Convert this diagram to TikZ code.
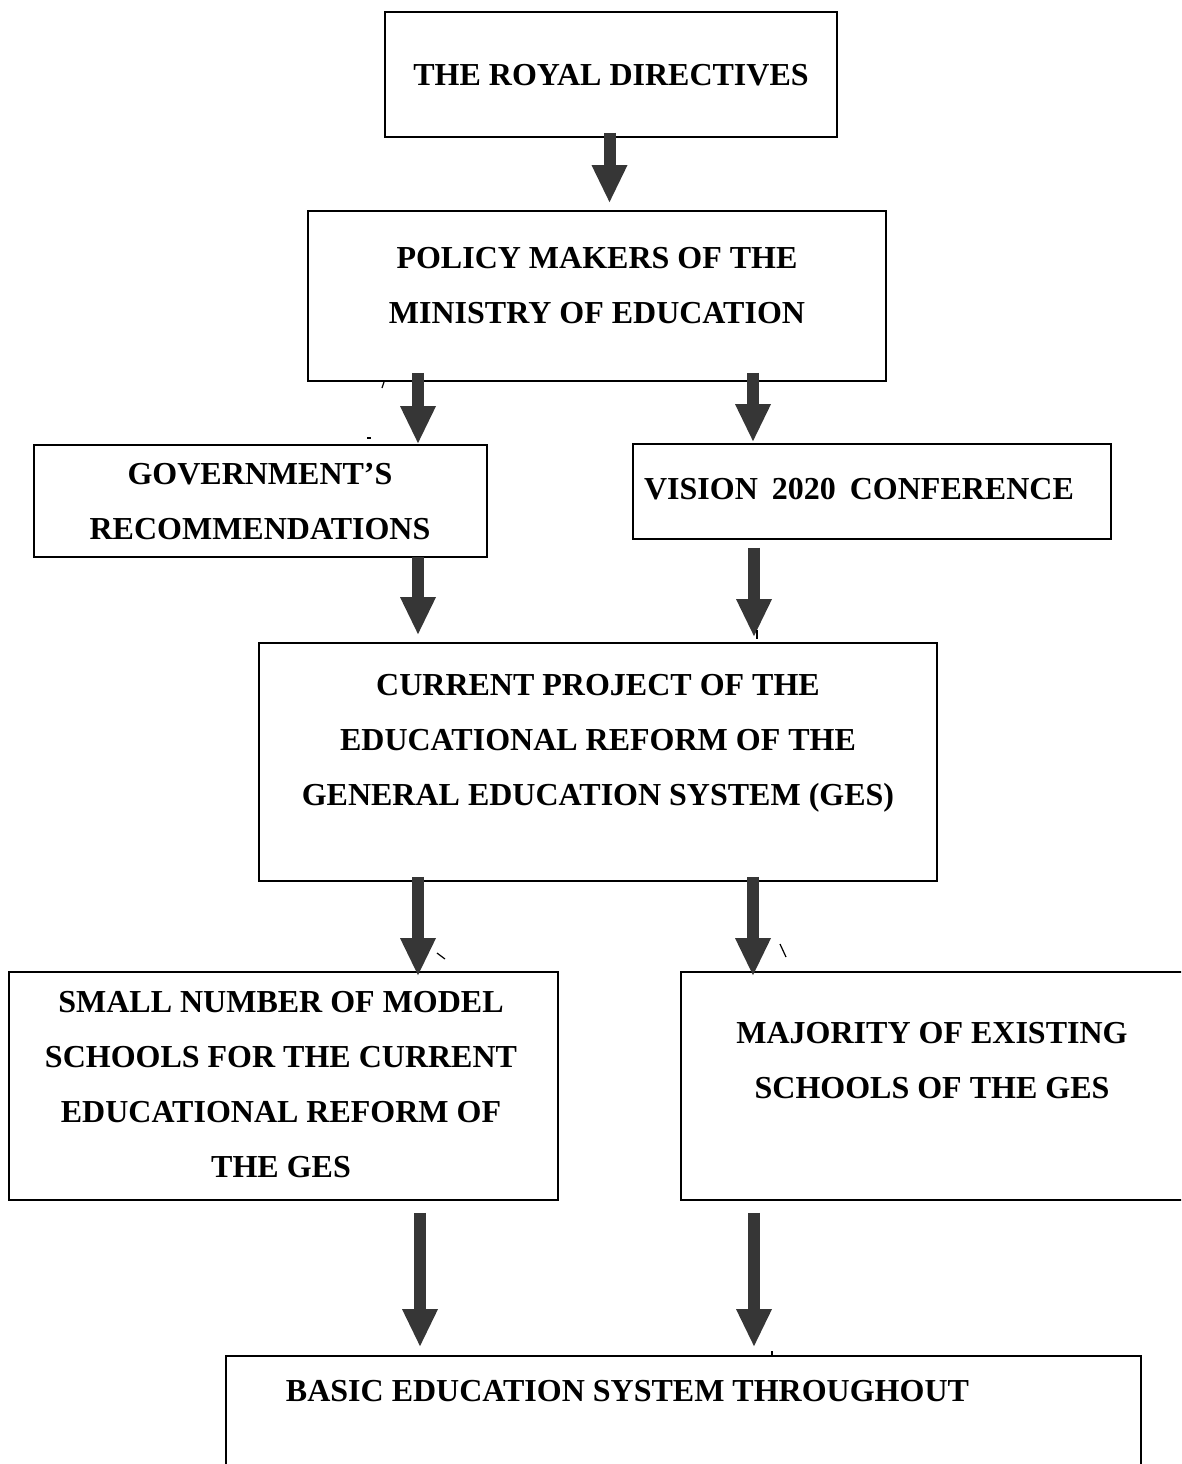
\documentclass[tikz,border=0pt]{standalone}
\usepackage{fontspec}
\setmainfont{Liberation Serif}
\usetikzlibrary{arrows.meta}
\definecolor{arrowgray}{RGB}{54,54,54}
\begin{document}
\begin{tikzpicture}[x=1pt,y=-1pt,
  box/.style={draw=black,line width=1.8pt,inner sep=0pt},
  txt/.style={font=\fontsize{32}{55}\selectfont\bfseries,align=center,inner sep=0pt},
  bigarrow/.style={draw=arrowgray,line width=12pt,-{Triangle[width=36pt,length=37pt,line width=0pt]}},
  stray/.style={draw=black,line width=1.2pt}]
\clip (0,0) rectangle (1181,1464);
\fill[white] (0,0) rectangle (1181,1464);

% boxes
\node[box,minimum width=452pt,minimum height=125pt] (royal) at (611,74.5) {};
\node[box,minimum width=578pt,minimum height=170pt] (policy) at (597,296) {};
\node[box,minimum width=453pt,minimum height=112pt] (gov) at (260.5,501) {};
\node[box,minimum width=478pt,minimum height=95pt] (vision) at (872,491.5) {};
\node[box,minimum width=678pt,minimum height=238pt] (current) at (598,762) {};
\node[box,minimum width=549pt,minimum height=228pt] (small) at (283.5,1086) {};
\node[box,minimum width=529pt,minimum height=228pt] (majority) at (945.5,1086) {};
\node[box,minimum width=915pt,minimum height=200pt] (basic) at (683.5,1456) {};

% texts
\node[txt] (royalT) at (611,75) {THE ROYAL DIRECTIVES};
\node[txt] (policyT) at (597,285.5) {POLICY MAKERS OF THE\\MINISTRY OF EDUCATION};
\node[txt] (govT) at (260,501.5) {GOVERNMENT’S\\RECOMMENDATIONS};
\node[txt] (visionT) at (859,489) {VISION\hspace{14pt}2020\hspace{14pt}CONFERENCE};
\node[txt] (currentT) at (598,743.5) {CURRENT PROJECT OF THE\\EDUCATIONAL REFORM OF THE\\GENERAL EDUCATION SYSTEM (GES)};
\node[txt] (smallT) at (281,1084.5) {SMALL NUMBER OF MODEL\\SCHOOLS FOR THE CURRENT\\EDUCATIONAL REFORM OF\\THE GES};
\node[txt] (majorityT) at (932,1060.5) {MAJORITY OF EXISTING\\SCHOOLS OF THE GES};
\node[txt] (basicT) at (627.5,1391) {BASIC EDUCATION SYSTEM THROUGHOUT};

% arrows
\draw[bigarrow] ([xshift=-1.5pt,yshift=5pt]royal.south) -- ([xshift=12.5pt,yshift=8pt]policy.north);
\draw[bigarrow] ([xshift=-179pt,yshift=9pt]policy.south) -- ([xshift=157.5pt,yshift=1pt]gov.north);
\draw[bigarrow] ([xshift=156pt,yshift=9pt]policy.south) -- ([xshift=-119pt,yshift=2pt]vision.north);
\draw[bigarrow] ([xshift=157.5pt,yshift=1pt]gov.south) -- ([xshift=-180pt,yshift=8pt]current.north);
\draw[bigarrow] ([xshift=-118pt,yshift=-8pt]vision.south) -- ([xshift=156pt,yshift=6pt]current.north);
\draw[bigarrow] ([xshift=-180pt,yshift=5pt]current.south) -- ([xshift=134.5pt,yshift=-4pt]small.north);
\draw[bigarrow] ([xshift=155pt,yshift=5pt]current.south) -- ([xshift=-192.5pt,yshift=-4pt]majority.north);
\draw[bigarrow] ([xshift=136.5pt,yshift=-12pt]small.south) -- ([xshift=-263.5pt,yshift=9pt]basic.north);
\draw[bigarrow] ([xshift=-191.5pt,yshift=-12pt]majority.south) -- ([xshift=70.5pt,yshift=9pt]basic.north);

% small stray marks
\draw[stray] (382,388) -- (384,382);
\draw[stray] (367,438) -- (371,438);
\draw[stray] (437,953) -- (445,959);
\draw[stray] (780,944) -- (786,957);
\draw[stray] (757,630) -- (757,639);
\draw[stray] (772,1351) -- (772,1356);
\end{tikzpicture}
\end{document}
